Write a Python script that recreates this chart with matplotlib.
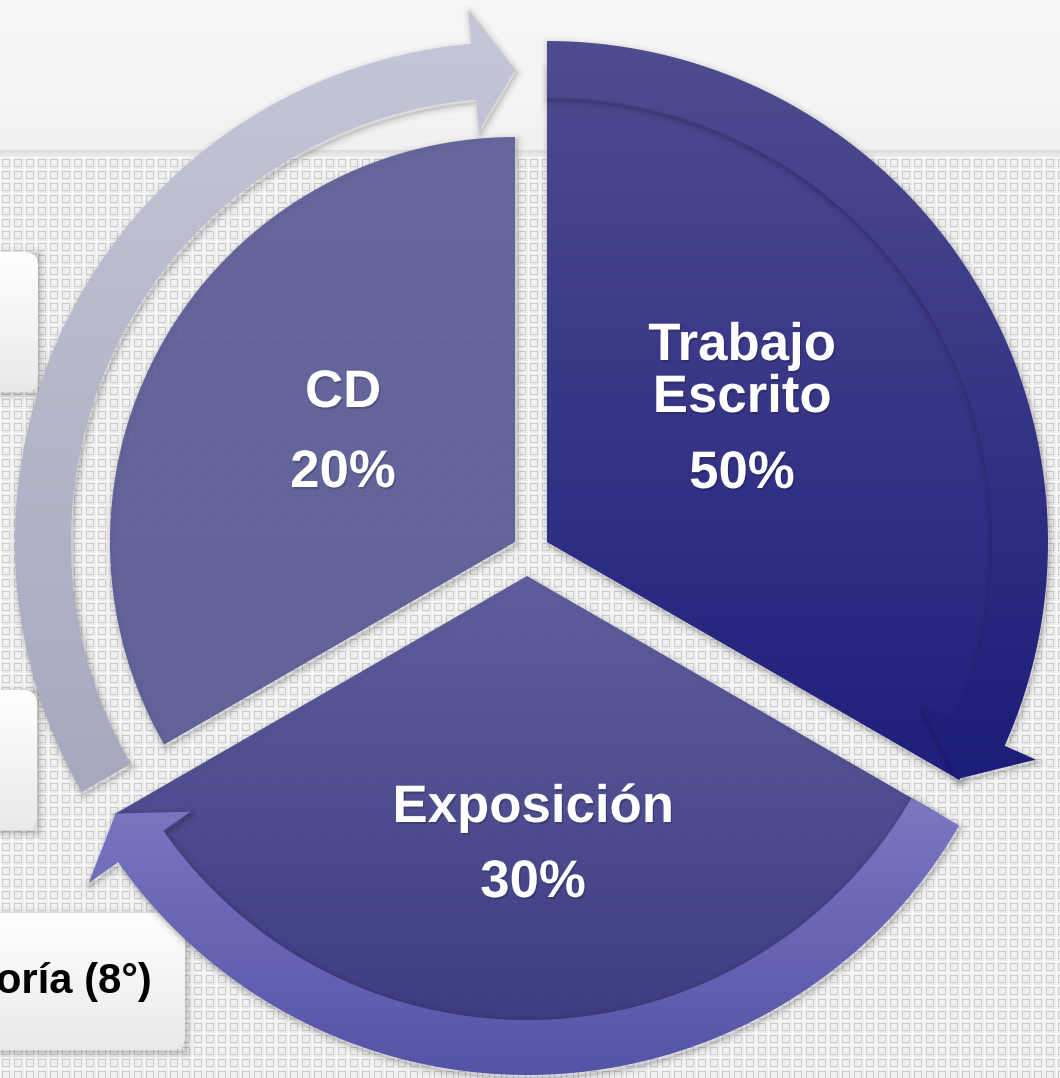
import matplotlib.pyplot as plt
import matplotlib.patheffects as pe
from matplotlib.patches import Polygon, FancyBboxPatch
import numpy as np

plt.rcParams['font.family'] = ['Liberation Sans', 'DejaVu Sans']

# data
categories = ['Trabajo\nEscrito', 'CD', 'Exposición']
percentages = [50, 20, 30]
side_label = 'oría (8°)'

W, H = 1060, 1078

# layout / style (image pixel coords, y down)
apex = [(547, 542), (515, 542), (527, 576)]
start_angle = [90, 210, -30]          # counter-clockwise start of each slice
wedge_r = [476, 405, 476]
wedge_top = ['#4d4b8f', '#5c5c98', '#58589a']
wedge_bot = ['#1f1f7d', '#565693', '#30307a']
wedge_alpha = [1.0, 0.92, 0.95]
label_xy = [(742, 360), (343, 407), (533, 822)]
line_gap = 52
pct_gap = [128, 80, 75]


def pt(c, r, t):
    a = np.radians(t)
    return (c[0] + r * np.cos(a), c[1] - r * np.sin(a))


def arc(c, r, t1, t2, n=120):
    return [pt(c, r, t) for t in np.linspace(t1, t2, n)]


def shadow(ax, verts, z, dx=1.5, dy=3):
    v = [(x + dx, y + dy) for x, y in verts]
    for lw, a in [(14, 0.025), (9, 0.035), (5, 0.05), (2, 0.07)]:
        ax.add_patch(Polygon(v, closed=True, facecolor='none',
                             edgecolor=(0, 0, 0, a), lw=lw * 0.72, zorder=z,
                             joinstyle='round'))


def grad_fill(ax, patch, c_top, c_bot, y0, y1, z, alpha=1.0):
    patch.set_facecolor('none')
    patch.set_edgecolor('none')
    patch.set_zorder(z)
    ax.add_patch(patch)
    t = np.linspace(0, 1, 256)[:, None]
    ct = np.array(plt.matplotlib.colors.to_rgb(c_top))
    cb = np.array(plt.matplotlib.colors.to_rgb(c_bot))
    img = ((1 - t) * ct + t * cb)[:, None, :]
    im = ax.imshow(img, extent=(0, W, y1, y0), aspect='auto',
                   interpolation='bilinear', zorder=z, alpha=alpha)
    im.set_clip_path(patch)


def arrow_poly(c, r_in, r_out, t_tail, t_base, rw_in, rw_out, t_tip, r_tip):
    outer = arc(c, r_out, t_tail, t_base)
    head = [pt(c, rw_out, t_base), pt(c, r_tip, t_tip), pt(c, rw_in, t_base)]
    inner = arc(c, r_in, t_base, t_tail)
    return outer + head + inner


fig = plt.figure(figsize=(W / 100, H / 100), dpi=100)
ax = fig.add_axes([0, 0, 1, 1])

# background: light header band + square texture
yy, xx = np.mgrid[0:H, 0:W]
P = 12
u = xx % P
v = (yy - 157) % P
bg = np.full((H, W), 0.935)
inside = (u >= 2) & (u <= 9) & (v >= 2) & (v <= 9)
ring = inside & ((u == 2) | (u == 9) | (v == 2) | (v == 9))
bg[inside] = 0.945
bg[ring] = 0.80
bg[(u == 0) | (v == 0)] = 0.975
top = yy < 150
bg[top] = 0.965 - 0.025 * (yy[top] / 150.0) ** 3
band = (yy >= 150) & (yy < 157)
bg[band] = 0.87 + 0.01 * (yy[band] - 150)
ax.imshow(np.dstack([bg, bg, bg]), extent=(0, W, H, 0), aspect='auto',
          interpolation='nearest', zorder=0)

# partially visible text boxes on the left
boxes = [(-60, 252, 98, 140), (-60, 690, 97, 140), (-60, 913, 245, 137)]
for bx, by, bw, bh in boxes:
    fb = FancyBboxPatch((bx, by), bw, bh, boxstyle='round,pad=0,rounding_size=14')
    shadow(ax, [(bx, by), (bx + bw, by), (bx + bw, by + bh), (bx, by + bh)], 1, 1, 2)
    grad_fill(ax, fb, '#ffffff', '#e9e9e9', by, by + bh, 1.5)
ax.text(152, 993, side_label, ha='right', va='baseline', fontsize=30,
        fontweight='bold', color='black', zorder=2)

# slices (equal spans, as in the cycle diagram)
span = 360 / len(categories)
for i in range(len(categories)):
    verts = [apex[i]] + arc(apex[i], wedge_r[i], start_angle[i], start_angle[i] - span)
    ys = [p[1] for p in verts]
    shadow(ax, verts, 2)
    grad_fill(ax, Polygon(verts, closed=True), wedge_top[i], wedge_bot[i],
              min(ys), max(ys), 3, wedge_alpha[i])

# cycle arrows
arrows = [
    (arrow_poly(apex[0], 445, 501, 90, -24, 410, 535, -30, 474), '#4f4d90', '#1c1c7a'),
    (arrow_poly(apex[1], 444, 500, 210, 95, 413, 534, 90, 472), '#c6c6d9', '#a7a7be'),
    (arrow_poly(apex[2], 444, 499, -30, -145, 411, 535, -150, 475), '#7a78c2', '#5553a6'),
]
for verts, ct, cb in arrows:
    ys = [p[1] for p in verts]
    shadow(ax, verts, 4)
    grad_fill(ax, Polygon(verts, closed=True), ct, cb, min(ys), max(ys), 5)

# labels
fx = [pe.withSimplePatchShadow(offset=(1, -1.5), shadow_rgbFace='black', alpha=0.18)]
for i, name in enumerate(categories):
    x, y = label_xy[i]
    lines = name.split('\n')
    for k, ln in enumerate(lines):
        ax.text(x, y + k * line_gap, ln, ha='center', va='baseline', fontsize=38,
                fontweight='bold', color='white', zorder=6, path_effects=fx)
    ax.text(x, y + pct_gap[i], f'{percentages[i]}%',
            ha='center', va='baseline', fontsize=38, fontweight='bold',
            color='white', zorder=6, path_effects=fx)

ax.set_xlim(0, W)
ax.set_ylim(H, 0)
ax.axis('off')
fig.savefig('out.png', dpi=100)
